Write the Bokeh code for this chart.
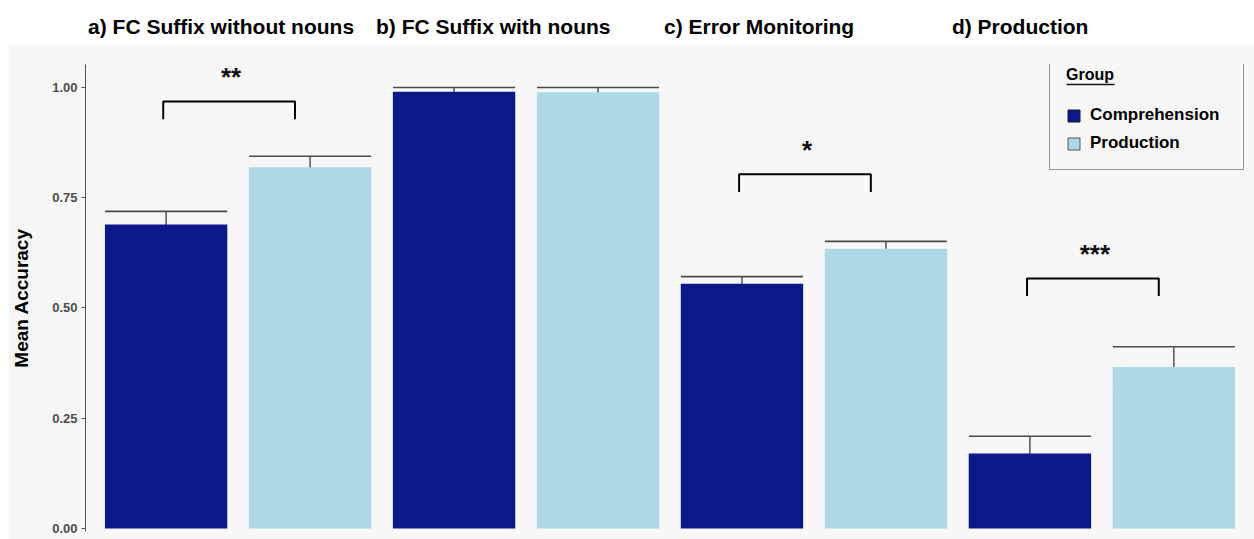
from bokeh.plotting import figure
from bokeh.models import (ColumnDataSource, FactorRange, Range1d, Whisker, TeeHead,
                          PrintfTickFormatter)
from bokeh.layouts import column
from bokeh.core.properties import value
from bokeh.embed import file_html
from bokeh.resources import INLINE

# ---------------- data ----------------
panels = ["a) FC Suffix without nouns", "b) FC Suffix with nouns",
          "c) Error Monitoring", "d) Production"]
groups = ["Comprehension", "Production"]

comp_mean = [0.689, 0.990, 0.555, 0.170]
comp_lower = [0.663, 0.982, 0.538, 0.134]
comp_upper = [0.719, 1.000, 0.571, 0.209]

prod_mean = [0.819, 0.989, 0.634, 0.366]
prod_lower = [0.798, 0.982, 0.620, 0.320]
prod_upper = [0.844, 1.000, 0.651, 0.412]

sig_panels = [panels[0], panels[2], panels[3]]
sig_labels = ["**", "*", "***"]
sig_y = [0.968, 0.803, 0.567]

y_ticks = [0.0, 0.25, 0.50, 0.75, 1.00]

NAVY = "#0a188a"
LIGHT = "#add8e6"
PANEL_BG = "#f7f7f7"
FONT = "Liberation Sans"

# ---------------- sources ----------------
xs, means, lows, ups, colors = [], [], [], [], []
for i, pn in enumerate(panels):
    for g, m, lo, up, col in ((groups[0], comp_mean, comp_lower, comp_upper, NAVY),
                              (groups[1], prod_mean, prod_lower, prod_upper, LIGHT)):
        xs.append((pn, g))
        means.append(m[i])
        lows.append(lo[i])
        ups.append(up[i])
        colors.append(col)

src = ColumnDataSource(dict(x=xs, mean=means, lower=lows, upper=ups, color=colors))

# bracket styling: drop of the bracket legs, small inward shifts of its ends
drop = 0.04
left_shift, right_shift = -0.02, -0.105
br_xs, br_ys = [], []
for pn, y in zip(sig_panels, sig_y):
    c = (pn, groups[0], left_shift)
    pr = (pn, groups[1], right_shift)
    br_xs.append([c, c, pr, pr])
    br_ys.append([y - drop, y, y, y - drop])
br_src = ColumnDataSource(dict(xs=br_xs, ys=br_ys))
star_src = ColumnDataSource(dict(x=sig_panels, y=[v + 0.055 for v in sig_y], t=sig_labels))

xr = FactorRange(*xs, factor_padding=0, group_padding=0,
                 range_padding=0.06, range_padding_units="absolute")

W = 1246

# ---------------- main figure ----------------
p = figure(x_range=xr, y_range=Range1d(-0.0068, 1.052), width=W, height=495,
           output_backend="svg", toolbar_location=None, x_axis_location=None,
           min_border_left=76, min_border_right=0, min_border_top=20, min_border_bottom=8,
           background_fill_color=PANEL_BG, border_fill_color=PANEL_BG,
           outline_line_color=None)
p.grid.visible = False

p.vbar(x="x", top="mean", width=0.85, source=src, line_color=None, fill_color="color")

p.add_layout(Whisker(source=src, base="x", upper="upper", lower="lower",
                     line_color="#3a3a3a", line_width=1.3,
                     upper_head=TeeHead(size=122, line_color="#4a4a4a", line_width=1.6),
                     lower_head=TeeHead(size=122, line_color="#3a3a3a", line_width=1.6)))

p.multi_line(xs="xs", ys="ys", source=br_src, line_color="black", line_width=2)
p.text(x="x", y="y", text="t", source=star_src, text_align="center", x_offset=-7,
       text_baseline="middle", text_font=value(FONT), text_font_size="26px",
       text_font_style="bold", text_color="#111111")

# legend keys (outlined squares, as in the reference); zero-size on the plot itself
p.vbar(x=[xs[0]], top=[0], bottom=[0], width=0, fill_color=NAVY,
       line_color="#1a1a2a", line_width=1, legend_label=groups[0])
p.vbar(x=[xs[1]], top=[0], bottom=[0], width=0, fill_color=LIGHT,
       line_color="#555555", line_width=1, legend_label=groups[1])

# underline of the legend title "Group"
p.segment(x0=[(panels[3], groups[1], -0.745)], x1=[(panels[3], groups[1], -0.412)],
          y0=[1.0068], y1=[1.0068], line_color="#111111", line_width=1.6)

yax = p.yaxis[0]
yax.ticker = y_ticks
yax.formatter = PrintfTickFormatter(format="%.2f")
yax.axis_label = "Mean Accuracy"
yax.axis_label_text_font = FONT
yax.axis_label_text_font_size = "19px"
yax.axis_label_text_font_style = "bold"
yax.axis_label_text_color = "black"
yax.axis_label_standoff = 17
yax.major_label_text_font = FONT
yax.major_label_text_font_size = "13px"
yax.major_label_text_font_style = "bold"
yax.major_label_text_color = "#4d4d4d"
yax.major_label_standoff = 4
yax.axis_line_color = "#555555"
yax.major_tick_line_color = "#555555"
yax.major_tick_out = 4
yax.major_tick_in = 0
yax.minor_tick_line_color = None

leg = p.legend[0]
leg.title = "Group"
leg.title_text_font = FONT
leg.title_text_font_size = "16px"
leg.title_text_font_style = "bold"
leg.title_text_color = "black"
leg.title_standoff = 21
leg.label_text_font = FONT
leg.label_text_font_size = "17px"
leg.label_text_font_style = "bold"
leg.label_text_color = "black"
leg.border_line_color = "#333333"
leg.border_line_width = 1
leg.background_fill_alpha = 0
leg.padding = 16
leg.spacing = 8
leg.glyph_width = 15
leg.glyph_height = 15
leg.label_height = 20
leg.label_width = 137
leg.label_standoff = 9
leg.margin = 0
leg.location = (964, 361)

# ---------------- title strip ----------------
tf = figure(x_range=xr, y_range=Range1d(0, 1), width=W, height=36,
            output_backend="svg", toolbar_location=None,
            x_axis_location=None, y_axis_location=None,
            min_border_left=76, min_border_right=0, min_border_top=0, min_border_bottom=0,
            background_fill_color="white", border_fill_color="white",
            outline_line_color=None)
tf.grid.visible = False
tf.text(x=panels, y=[0.5] * len(panels), text=panels, x_offset=-150,
        text_align="left", text_baseline="middle", text_font=value(FONT),
        text_font_size="21px", text_font_style="bold", text_color="black")

layout = column(tf, p, spacing=0, margin=(8, 0, 0, 8))
open("out.html", "w").write(file_html(layout, INLINE))
